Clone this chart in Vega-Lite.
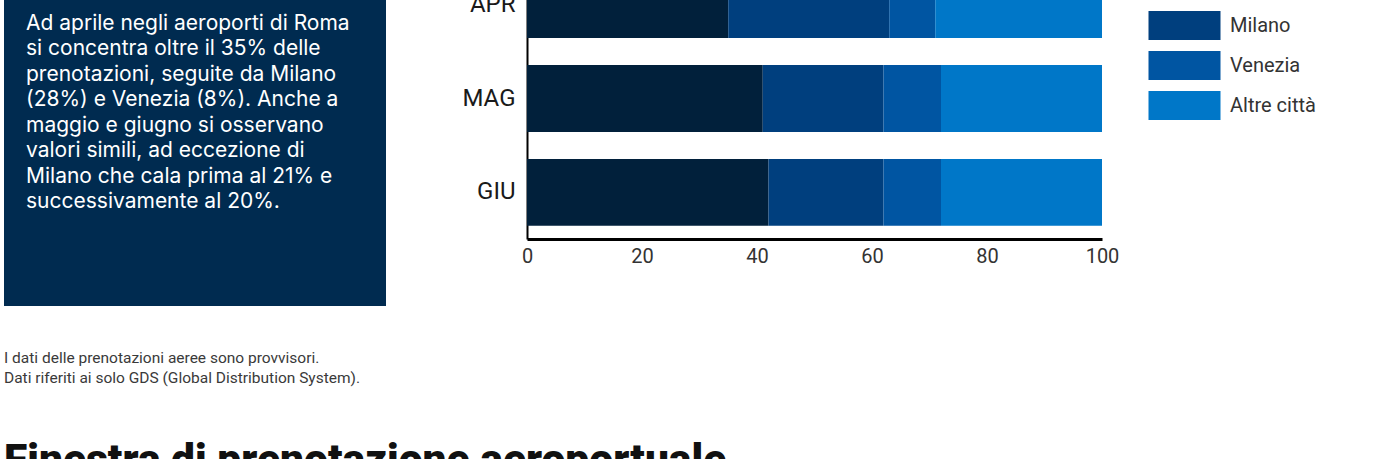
{
  "$schema": "https://vega.github.io/schema/vega-lite/v6.json",
  "padding": {"left": 4, "top": -42, "right": 0, "bottom": 0},
  "background": "white",
  "config": {"view": {"stroke": null}, "font": "Roboto", "concat": {"spacing": 41}},
  "title": {
    "text": ["I dati delle prenotazioni aeree sono provvisori.", "Dati riferiti ai solo GDS (Global Distribution System)."],
    "subtitle": "Finestra di prenotazione aeroportuale",
    "orient": "bottom",
    "anchor": "start",
    "frame": "bounds",
    "font": "Roboto",
    "fontSize": 15.5,
    "fontWeight": "normal",
    "color": "#3a3a3a",
    "lineHeight": 20,
    "offset": 45,
    "subtitleFont": "Roboto",
    "subtitleFontSize": 42.5,
    "subtitleFontWeight": 900,
    "subtitleColor": "#111111",
    "subtitlePadding": 53
  },
  "hconcat": [
    {
      "width": 382,
      "height": 348,
      "view": {"fill": "#002B50", "stroke": null},
      "data": {"values": [{"t": ""}]},
      "mark": {"type": "text"},
      "encoding": {"text": {"field": "t", "type": "nominal"}},
      "title": {
        "text": [
          "Ad aprile negli aeroporti di Roma",
          "si concentra oltre il 35% delle",
          "prenotazioni, seguite da Milano",
          "(28%) e Venezia (8%). Anche a",
          "maggio e giugno si osservano",
          "valori simili, ad eccezione di",
          "Milano che cala prima al 21% e",
          "successivamente al 20%."
        ],
        "orient": "top",
        "anchor": "start",
        "frame": "group",
        "baseline": "top",
        "offset": -254,
        "dx": 22,
        "color": "white",
        "font": "Inter",
        "fontSize": 21,
        "fontWeight": "normal",
        "lineHeight": 25.5
      }
    },
    {
      "width": 575,
      "height": 281,
      "data": {
        "values": [
          {"mese": "APR", "citta": "Roma", "quota": 35, "ordine": 1},
          {"mese": "APR", "citta": "Milano", "quota": 28, "ordine": 2},
          {"mese": "APR", "citta": "Venezia", "quota": 8, "ordine": 3},
          {"mese": "APR", "citta": "Altre città", "quota": 29, "ordine": 4},
          {"mese": "MAG", "citta": "Roma", "quota": 41, "ordine": 1},
          {"mese": "MAG", "citta": "Milano", "quota": 21, "ordine": 2},
          {"mese": "MAG", "citta": "Venezia", "quota": 10, "ordine": 3},
          {"mese": "MAG", "citta": "Altre città", "quota": 28, "ordine": 4},
          {"mese": "GIU", "citta": "Roma", "quota": 42, "ordine": 1},
          {"mese": "GIU", "citta": "Milano", "quota": 20, "ordine": 2},
          {"mese": "GIU", "citta": "Venezia", "quota": 10, "ordine": 3},
          {"mese": "GIU", "citta": "Altre città", "quota": 28, "ordine": 4}
        ]
      },
      "mark": {"type": "bar", "strokeWidth": 0},
      "encoding": {
        "y": {
          "field": "mese",
          "type": "nominal",
          "sort": ["APR", "MAG", "GIU"],
          "scale": {"paddingInner": 0.287, "paddingOuter": 0.14},
          "axis": {
            "title": null,
            "ticks": false,
            "domainColor": "#000000",
            "domainWidth": 2,
            "labelPadding": 12,
            "labelFontSize": 24,
            "labelColor": "#1a1a1a",
            "labelFont": "Roboto",
            "minExtent": 100,
            "maxExtent": 100
          }
        },
        "x": {
          "field": "quota",
          "type": "quantitative",
          "stack": "zero",
          "scale": {"domain": [0, 100], "nice": false},
          "axis": {
            "title": null,
            "values": [0, 20, 40, 60, 80, 100],
            "ticks": false,
            "grid": false,
            "labelFlush": false,
            "domainColor": "#000000",
            "domainWidth": 3,
            "labelPadding": 7,
            "labelFontSize": 20,
            "labelColor": "#333333",
            "labelFont": "Roboto"
          }
        },
        "color": {
          "field": "citta",
          "type": "nominal",
          "scale": {
            "domain": ["Roma", "Milano", "Venezia", "Altre città"],
            "range": ["#01203B", "#003F7E", "#0055A2", "#0077C8"]
          },
          "legend": {
            "title": null,
            "orient": "right",
            "offset": 38,
            "padding": 13,
            "symbolType": "M-2.483,-1H2.483V1H-2.483Z",
            "symbolSize": 841,
            "symbolStrokeWidth": 0,
            "symbolOpacity": 1,
            "labelFont": "Roboto",
            "labelFontSize": 20,
            "labelColor": "#333333",
            "labelOffset": 31,
            "rowPadding": 11
          }
        },
        "order": {"field": "ordine", "type": "quantitative"}
      }
    }
  ]
}
